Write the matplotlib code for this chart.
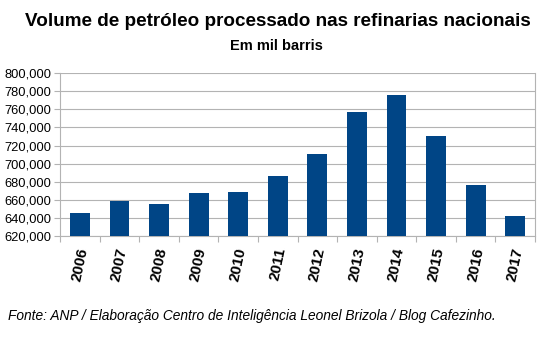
import matplotlib
matplotlib.use("Agg")
import matplotlib.pyplot as plt
from matplotlib.ticker import FuncFormatter, MultipleLocator

years = ["2006", "2007", "2008", "2009", "2010", "2011", "2012", "2013", "2014", "2015", "2016", "2017"]
volumes = [645300, 657900, 655000, 666800, 667900, 686600, 710900, 757100, 776000, 730900, 676500, 641800]

title = "Volume de petróleo processado nas refinarias nacionais"
subtitle = "Em mil barris"
source = "Fonte: ANP / Elaboração Centro de Inteligência Leonel Brizola / Blog Cafezinho."

plt.rcParams['font.family'] = ['Liberation Sans', 'DejaVu Sans']

fig = plt.figure(figsize=(5.46, 3.40), dpi=100)
ax = fig.add_axes([0.110, 0.307, 0.870, 0.477])

x = list(range(len(years)))
ax.bar(x, volumes, width=0.5, color="#004586", zorder=3)

ax.set_ylim(620000, 800000)
ax.set_xlim(-0.5, len(years) - 0.5)
ax.yaxis.set_major_locator(MultipleLocator(20000))
ax.yaxis.set_major_formatter(FuncFormatter(lambda v, p: f"{int(v):,}"))
ax.grid(axis="y", color="#b3b3b3", linewidth=0.8, zorder=0)

ax.set_xticks(x)
ax.set_xticklabels(years, rotation=78, fontsize=11, fontweight="bold", ha="center", va="top")
ax.set_xticks([i - 0.5 for i in range(len(years) + 1)], minor=True)
ax.tick_params(axis="x", which="major", length=0, pad=8)
ax.tick_params(axis="x", which="minor", length=4, color="#b3b3b3", width=0.8)
ax.tick_params(axis="y", length=4, color="#b3b3b3", width=0.8, labelsize=9.3, pad=2)

ax.spines["top"].set_visible(False)
for side in ["left", "bottom", "right"]:
    ax.spines[side].set_color("#b3b3b3")
    ax.spines[side].set_linewidth(0.8)

fig.text(0.509, 0.938, title, ha="center", va="center", fontsize=13.6, fontweight="bold")
fig.text(0.507, 0.866, subtitle, ha="center", va="center", fontsize=10.5, fontweight="bold")
fig.text(0.015, 0.07, source, ha="left", va="center", fontsize=9.9, style="italic")

fig.savefig("out.png", dpi=100)
